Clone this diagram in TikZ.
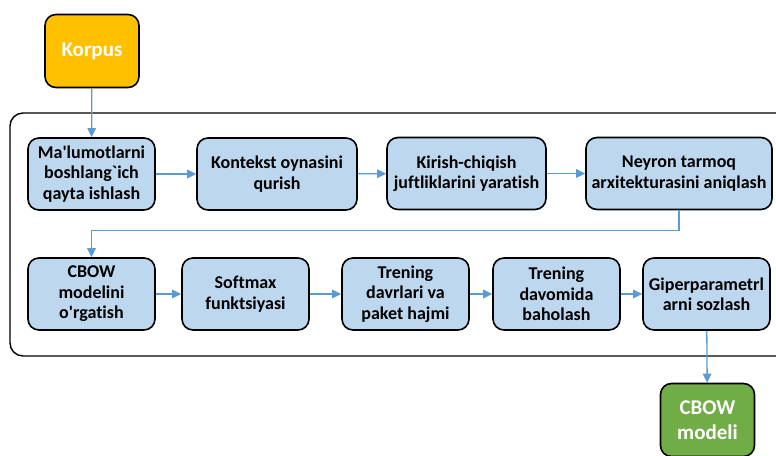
\documentclass[tikz,border=0pt]{standalone}
\usepackage{fontspec}
\setmainfont{Carlito}[Ligatures={NoCommon}]
\usetikzlibrary{arrows.meta,positioning,shapes}
\definecolor{lblue}{RGB}{189, 215, 238}
\definecolor{dblue}{RGB}{91, 155, 213}
\definecolor{lorange}{RGB}{255, 192, 0}
\definecolor{lgreen}{RGB}{112, 173, 71}
\tikzstyle{stage} = [rectangle, draw, line width=1.6pt, fill=lblue,
  align=center, rounded corners=11pt,
  minimum width=127pt, minimum height=72pt, inner sep=2pt,
  font=\fontsize{18}{20.5}\selectfont\bfseries]
\tikzstyle{terminal} = [stage, minimum width=94pt,
  minimum height=73pt, text=white, font=\fontsize{21}{25}\selectfont\bfseries]
\tikzstyle{line} = [draw, line width=1.3pt, color=dblue,
  -{Triangle[length=9pt,width=8.5pt]}]
\begin{document}
\begin{tikzpicture}[x=1pt,y=-1pt]
  \useasboundingbox (0,0) rectangle (776,455);

  %%%%%%%%%%%%%%%%%%%%%%%%%%%%%%%%%%%%%%%%%%%%%%%%%%%%%%%%%%%%%%
  %                    INPUT AND FRAME                         %
  %%%%%%%%%%%%%%%%%%%%%%%%%%%%%%%%%%%%%%%%%%%%%%%%%%%%%%%%%%%%%%

  \node [terminal, fill=lorange] (korpus) at (92,51) {Korpus};
  \node [rectangle, draw, line width=1.4pt, rounded corners=13pt,
    minimum width=780pt, minimum height=243pt] (pipeline) at (400,234.5) {};

  %%%%%%%%%%%%%%%%%%%%%%%%%%%%%%%%%%%%%%%%%%%%%%%%%%%%%%%%%%%%%%
  %                    FIRST ROW                               %
  %%%%%%%%%%%%%%%%%%%%%%%%%%%%%%%%%%%%%%%%%%%%%%%%%%%%%%%%%%%%%%

  \node [stage] (preprocess) at (91.5,174) {Ma\textquotesingle lumotlarni\\ boshlang\textasciigrave ich\\ qayta ishlash};
  \node [stage, minimum width=160pt] (context) at (277,174) {Kontekst oynasini\\ qurish};
  \node [stage, minimum width=159pt] (pairs) at (466.5,173.5) {Kirish-chiqish\\ juftliklarini yaratish};
  \node [stage, minimum width=186pt] (network) at (679,173.5) {Neyron tarmoq\\ arxitekturasini aniqlash};

  %%%%%%%%%%%%%%%%%%%%%%%%%%%%%%%%%%%%%%%%%%%%%%%%%%%%%%%%%%%%%%
  %                    SECOND ROW                              %
  %%%%%%%%%%%%%%%%%%%%%%%%%%%%%%%%%%%%%%%%%%%%%%%%%%%%%%%%%%%%%%

  \node [stage] (train) at (91.5,294) {CBOW\\ modelini\\ o\textquotesingle rgatish};
  \node [stage] (softmax) at (245.5,294) {Softmax\\ funktsiyasi};
  \node [stage] (epochs) at (405.5,294) {Trening\\ davrlari va\\ paket hajmi};
  \node [stage] (evaluate) at (556.5,294) {Trening\\ davomida\\ baholash};
  \node [stage] (tuning) at (706.5,294) {Giperparametrl\\ arni sozlash};

  \node [terminal, fill=lgreen] (model) at (707.5,420) {CBOW\\ modeli};

  \path [line] (korpus) -- (preprocess);
  \path [line] (preprocess) -- (context);
  \path [line] (context) -- (pairs);
  \path [line] (pairs) -- (network);
  \path [line] (network.south) -- ++(0,20) -| (train.north);
  \path [line] (train) -- (softmax);
  \path [line] (softmax) -- (epochs);
  \path [line] (epochs) -- (evaluate);
  \path [line] (evaluate) -- (tuning);
  \path [line] (tuning) -- (model);

\end{tikzpicture}
\end{document}
